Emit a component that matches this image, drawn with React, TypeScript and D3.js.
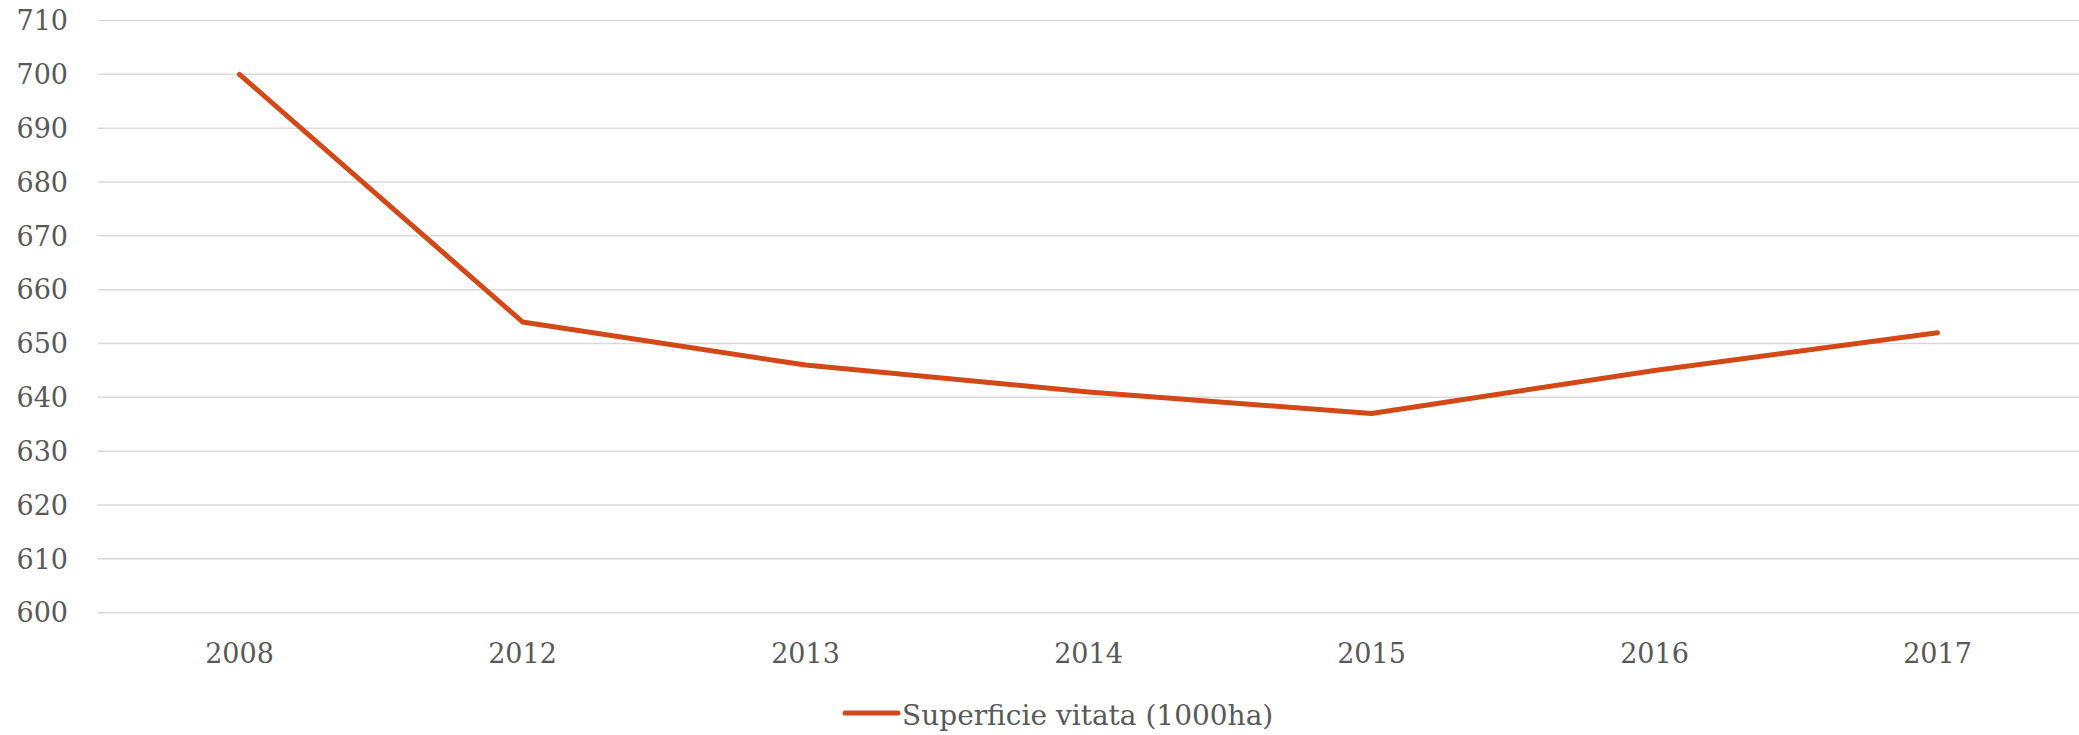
import { useEffect, useRef } from "react";
import * as d3 from "d3";

const YEARS = ["2008", "2012", "2013", "2014", "2015", "2016", "2017"];
const AREA = [700, 654, 646, 641, 637, 645, 652];
const Y_TICKS = [600, 610, 620, 630, 640, 650, 660, 670, 680, 690, 700, 710];
const SERIES_NAME = "Superficie vitata (1000ha)";

const LAYOUT = {
  width: 2079,
  height: 735,
  plot: { left: 98, right: 2079, top: 20.5, bottom: 612.7 },
};

const STYLE = {
  font: "'DejaVu Serif', 'Liberation Serif', serif",
  text: "#595959",
  grid: "#d9d9d9",
  line: "#d34817",
  axisSize: 27,
  legendSize: 28,
};

function drawChart(svgEl: SVGSVGElement) {
  const svg = d3.select(svgEl);
  svg.selectAll("*").remove();
  const { plot } = LAYOUT;

  const x = d3.scaleBand<string>().domain(YEARS).range([plot.left, plot.right]);
  const y = d3.scaleLinear().domain([600, 710]).range([plot.bottom, plot.top]);
  const cx = (d: string) => (x(d) ?? 0) + x.bandwidth() / 2;

  // gridlines
  svg
    .append("g")
    .selectAll("line")
    .data(Y_TICKS)
    .join("line")
    .attr("x1", plot.left)
    .attr("x2", plot.right)
    .attr("y1", (d) => y(d))
    .attr("y2", (d) => y(d))
    .attr("stroke", STYLE.grid)
    .attr("stroke-width", 1.5);

  // y labels
  svg
    .append("g")
    .selectAll("text")
    .data(Y_TICKS)
    .join("text")
    .attr("x", 68)
    .attr("y", (d) => y(d))
    .attr("dy", "0.36em")
    .attr("text-anchor", "end")
    .attr("font-family", STYLE.font)
    .attr("font-size", STYLE.axisSize)
    .attr("fill", STYLE.text)
    .text((d) => d);

  // x labels
  svg
    .append("g")
    .selectAll("text")
    .data(YEARS)
    .join("text")
    .attr("x", (d) => cx(d))
    .attr("y", 663)
    .attr("text-anchor", "middle")
    .attr("font-family", STYLE.font)
    .attr("font-size", STYLE.axisSize)
    .attr("fill", STYLE.text)
    .text((d) => d);

  const line = d3
    .line<number>()
    .x((_d, i) => cx(YEARS[i]))
    .y((d) => y(d));

  svg
    .append("path")
    .datum(AREA)
    .attr("fill", "none")
    .attr("stroke", STYLE.line)
    .attr("stroke-width", 5)
    .attr("stroke-linecap", "round")
    .attr("stroke-linejoin", "round")
    .attr("d", line);

  // legend
  const legend = svg.append("g").attr("transform", "translate(845, 713)");
  legend
    .append("line")
    .attr("x1", 0)
    .attr("x2", 53)
    .attr("stroke", STYLE.line)
    .attr("stroke-width", 5)
    .attr("stroke-linecap", "round");
  legend
    .append("text")
    .attr("x", 57)
    .attr("y", 12)
    .attr("font-family", STYLE.font)
    .attr("font-size", STYLE.legendSize)
    .attr("fill", STYLE.text)
    .text(SERIES_NAME);
}

export default function App() {
  const ref = useRef<SVGSVGElement>(null);

  useEffect(() => {
    if (ref.current) drawChart(ref.current);
  }, []);

  return (
    <div style={{ position: "absolute", left: 0, top: 0, background: "#fff" }}>
      <svg ref={ref} width={LAYOUT.width} height={LAYOUT.height} style={{ display: "block" }} />
    </div>
  );
}
